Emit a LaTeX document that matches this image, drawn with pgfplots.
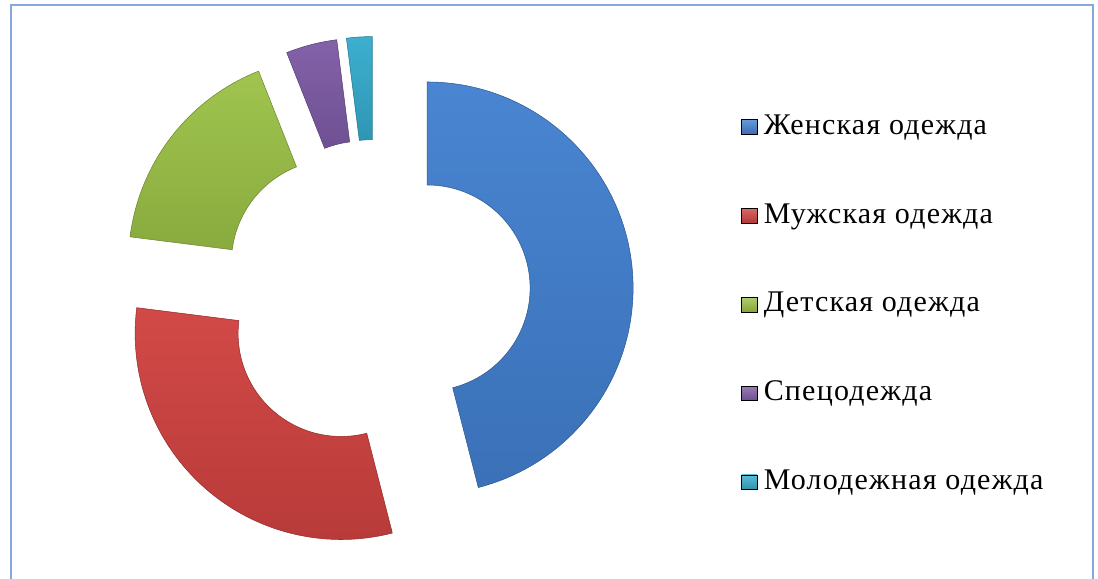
\documentclass[border=0pt]{standalone}
\usepackage{pgfplots}
\pgfplotsset{compat=1.18}
\usepackage{pgfplotstable}
\usepackage{fontspec}
\setmainfont{Liberation Serif}
\newfontfamily\legfont[LetterSpace=4]{Liberation Serif}

\definecolor{cA}{HTML}{4280D0}
\definecolor{cB}{HTML}{D04240}
\definecolor{cC}{HTML}{9CC247}
\definecolor{cD}{HTML}{7E5BA6}
\definecolor{cE}{HTML}{35ABCD}
\definecolor{frameblue}{HTML}{84A9DA}

% shares in percent, clockwise from 12 o'clock
\pgfplotstableread{
share color
46 cA
31 cB
17 cC
4 cD
2 cE
}\sharetable

\begin{document}
\begin{tikzpicture}
\useasboundingbox (0,0) rectangle (823.5pt,433.5pt);
\begin{scope}
\clip (0,0) rectangle (823.5pt,433.5pt);
\begin{axis}[
  at={(0,0)}, anchor=south west, scale only axis,
  width=823.5pt, height=433.5pt,
  xmin=0, xmax=1098, ymin=0, ymax=578,
  hide axis, clip=false,
  legend image code/.code={\shade[#1] (0pt,-5.5pt) rectangle (11.5pt,5.5pt);},
  legend style={at={(axis cs:737,468)}, anchor=north west, draw=none, fill=none,
    font=\legfont\fontsize{22.5}{26}\selectfont, row sep=45.6pt,
    nodes={inner sep=1pt, text height=15pt, text depth=4pt},
    /tikz/every odd column/.append style={column sep=4pt}},
  legend cell align=left,
]
% frame
\draw[frameblue, line width=1.9pt] (axis cs:11,-30) -- (axis cs:11,573) -- (axis cs:1093,573) -- (axis cs:1093,-30);
% total
\def\total{0}
\pgfplotsforeachungrouped \i in {0,...,4}{%
  \pgfplotstablegetelem{\i}{share}\of\sharetable
  \pgfmathsetmacro\total{\total+\pgfplotsretval}%
}
\def\cum{0}
\pgfplotsforeachungrouped \i in {0,...,4}{%
  \pgfplotstablegetelem{\i}{share}\of\sharetable \let\val\pgfplotsretval
  \pgfplotstablegetelem{\i}{color}\of\sharetable \let\col\pgfplotsretval
  \pgfmathsetmacro\ts{\cum/\total*360}%
  \pgfmathsetmacro\cum{\cum+\val}%
  \pgfmathsetmacro\te{\cum/\total*360}%
  \pgfmathsetmacro\tm{(\ts+\te)/2}%
  \pgfmathsetmacro\cx{375.5+52*sin(\tm)}%
  \pgfmathsetmacro\cy{283.5+52*cos(\tm)}%
  \pgfmathsetmacro\ox{\cx+206*sin(\ts)}%
  \pgfmathsetmacro\oy{\cy+206*cos(\ts)}%
  \pgfmathsetmacro\ix{\cx+103*sin(\te)}%
  \pgfmathsetmacro\iy{\cy+103*cos(\te)}%
  \pgfmathsetmacro\sa{90-\ts}%
  \pgfmathsetmacro\ea{90-\te}%
  \edef\temp{\noexpand\shadedraw[top color=\col!96!white, bottom color=\col!88!black,
      draw=\col!70!black, line width=0.4pt]
    (axis cs:\ox,\oy) arc[start angle=\sa, end angle=\ea, radius=154.5pt]
    -- (axis cs:\ix,\iy) arc[start angle=\ea, end angle=\sa, radius=77.25pt] -- cycle;}%
  \temp
}
\addlegendimage{top color=cA!80!white, bottom color=cA!85!black}\addlegendentry{Женская одежда}
\addlegendimage{top color=cB!80!white, bottom color=cB!85!black}\addlegendentry{Мужская одежда}
\addlegendimage{top color=cC!80!white, bottom color=cC!85!black}\addlegendentry{Детская одежда}
\addlegendimage{top color=cD!80!white, bottom color=cD!85!black}\addlegendentry{Спецодежда}
\addlegendimage{top color=cE!80!white, bottom color=cE!85!black}\addlegendentry{Молодежная одежда}
\end{axis}
\end{scope}
\end{tikzpicture}
\end{document}
